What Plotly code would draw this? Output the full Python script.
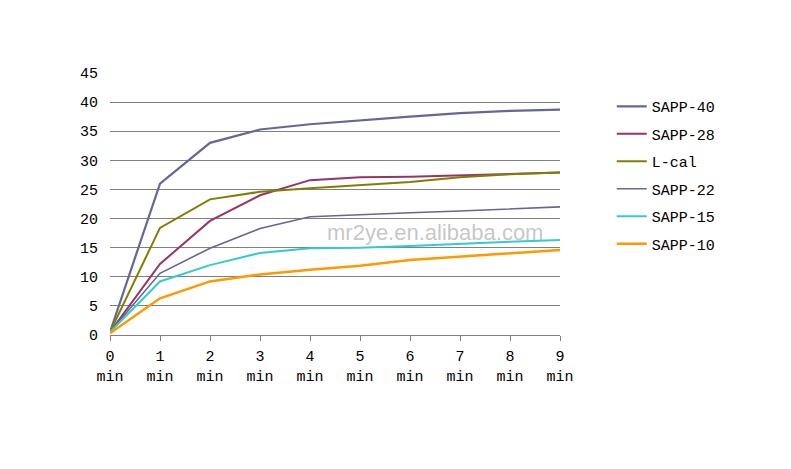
import plotly.graph_objects as go

minutes = [0, 1, 2, 3, 4, 5, 6, 7, 8, 9]
tick_labels = [f"{m}<br>min" for m in minutes]

series_names = ["SAPP-40", "SAPP-28", "L-cal", "SAPP-22", "SAPP-15", "SAPP-10"]
sapp40 = [0.5, 26.0, 33.0, 35.3, 36.2, 36.9, 37.5, 38.1, 38.5, 38.7]
sapp28 = [0.5, 12.2, 19.6, 24.0, 26.6, 27.1, 27.2, 27.4, 27.6, 27.9]
lcal   = [0.5, 18.4, 23.3, 24.6, 25.2, 25.8, 26.3, 27.1, 27.6, 27.9]
sapp22 = [0.5, 10.6, 14.9, 18.3, 20.3, 20.7, 21.0, 21.3, 21.6, 22.0]
sapp15 = [0.5, 9.2, 12.0, 14.1, 14.9, 15.0, 15.3, 15.7, 16.0, 16.3]
sapp10 = [0.3, 6.3, 9.2, 10.4, 11.2, 11.9, 12.9, 13.5, 14.1, 14.6]
values = [sapp40, sapp28, lcal, sapp22, sapp15, sapp10]
colors = ["#666699", "#993366", "#808000", "#666699", "#33CCCC", "#FF9900"]
widths = [2.2, 2, 2, 1.6, 2, 2.5]

font_main = "Liberation Mono, DejaVu Sans Mono, monospace"

fig = go.Figure()
for name, vals, c, w in zip(series_names, values, colors, widths):
    fig.add_trace(go.Scatter(
        x=minutes, y=vals, mode="lines", name=name, legendgroup=name,
        line=dict(color=c, width=w),
    ))

fig.update_layout(
    width=791, height=469,
    paper_bgcolor="white", plot_bgcolor="white",
    margin=dict(l=102, r=239, t=65, b=142),
    font=dict(family=font_main, size=13, color="#000000"),
    showlegend=True,
    legend=dict(
        x=1.115, y=0.935, xanchor="left", yanchor="top",
        font=dict(family=font_main, size=15, color="#000000"),
        tracegroupgap=5, bgcolor="rgba(0,0,0,0)",
    ),
    xaxis=dict(
        range=[0, 9], tickmode="array", tickvals=minutes, ticktext=tick_labels,
        showgrid=False, zeroline=False, showline=True, linecolor="#808080", linewidth=1,
        ticks="outside", ticklen=5, tickcolor="#808080",
        tickfont=dict(family=font_main, size=15),
        ticklabelstandoff=2,
    ),
    yaxis=dict(
        range=[0, 45], tickmode="linear", tick0=0, dtick=5,
        showgrid=True, gridcolor="#808080", gridwidth=1,
        zeroline=False, showline=False, ticks="",
        tickfont=dict(family=font_main, size=15),
        ticklabelstandoff=11,
    ),
    annotations=[dict(
        text="mr2ye.en.alibaba.com", x=0.722, y=0.39, xref="paper", yref="paper",
        xanchor="center", yanchor="middle",
        showarrow=False, font=dict(family="Liberation Sans, Arial", size=22, color="rgba(150,150,150,0.55)"),
    )],
)

fig.write_html("out.html")
